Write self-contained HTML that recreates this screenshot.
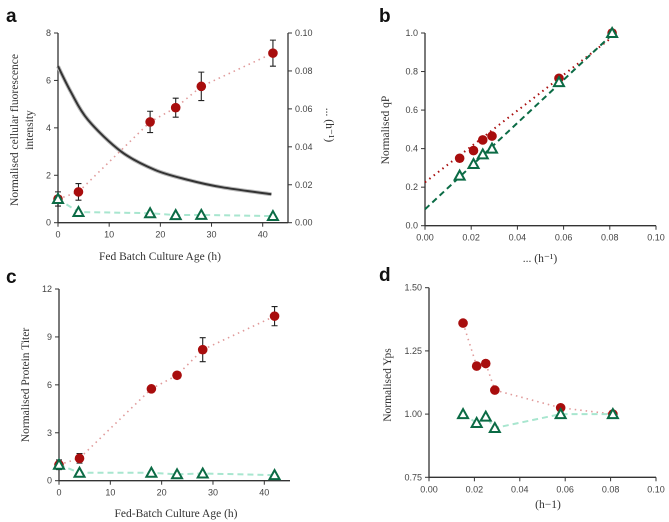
<!DOCTYPE html>
<html><head><meta charset="utf-8"><style>
body{margin:0;background:#fff}
svg{display:block;font-family:"Liberation Sans",sans-serif}
.tk{font-size:9px;fill:#444}
.lab{font-family:"Liberation Serif",serif;font-size:11.5px;fill:#333}
.pl{font-size:19px;font-weight:bold;fill:#111}
</style></head><body>
<svg id="s" width="669" height="522" xmlns="http://www.w3.org/2000/svg">
<text class="pl" x="6" y="22">a</text>
<text class="pl" x="379" y="22">b</text>
<text class="pl" x="6" y="283">c</text>
<text class="pl" x="379" y="281">d</text>
</svg>
<script>
// Panel a
const aTime=[0,4,18,23,28,42];
const aRed=[1,1.3,4.25,4.85,5.75,7.15];
const aRedErr=[0.3,0.35,0.45,0.4,0.6,0.55];
const aGreen=[1,0.45,0.4,0.32,0.33,0.28];
const aCurveT=[0,2.5,5.9,12.4,19,25.5,32,41.7];
const aCurveMu=[0.0825,0.069,0.0541,0.0374,0.0278,0.0225,0.0187,0.015];
// Panel b
const bMu=[0.015,0.021,0.025,0.029,0.058,0.081];
const bRed=[0.35,0.39,0.445,0.465,0.765,1.0];
const bGreen=[0.26,0.32,0.37,0.40,0.745,1.0];
const bRedFit=[0.225,9.3]; // intercept, slope
const bGreenFit=[0.085,11.2];
// Panel c
const cTime=[0,4,18,23,28,42];
const cRed=[1,1.4,5.75,6.6,8.2,10.3];
const cRedErr=[0.3,0.3,0,0,0.75,0.6];
const cGreen=[1,0.5,0.5,0.4,0.45,0.35];
// Panel d
const dMu=[0.015,0.021,0.025,0.029,0.058,0.081];
const dRed=[1.36,1.19,1.2,1.095,1.025,1.0];
const dGreen=[1.0,0.965,0.99,0.945,1.0,1.0];

const S=document.getElementById('s');
const NS='http://www.w3.org/2000/svg';
function el(t,a,txt){const e=document.createElementNS(NS,t);for(const k in a)e.setAttribute(k,a[k]);if(txt!==undefined)e.textContent=txt;S.appendChild(e);return e;}
function lin(d0,d1,r0,r1){return v=>r0+(v-d0)/(d1-d0)*(r1-r0);}
const RED='#a80d0d',GRN='#0b6b45';
function axes(x,y,xt,yt,x0,x1,y0,y1,fmtx,fmty,name){
  let l=el('line',{x1:x0,y1:y0,x2:x1,y2:y0,stroke:'#333','stroke-width':1.3});
  
  l=el('line',{x1:x0,y1:y0,x2:x0,y2:y1,stroke:'#333','stroke-width':1.3});
  
  xt.forEach(v=>{el('line',{x1:x(v),y1:y0,x2:x(v),y2:y0+4,stroke:'#333'});
    const t=el('text',{x:x(v),y:y0+15,class:'tk','text-anchor':'middle'},fmtx(v));
    });
  yt.forEach(v=>{el('line',{x1:x0-4,y1:y(v),x2:x0,y2:y(v),stroke:'#333'});
    const t=el('text',{x:x0-7,y:y(v)+3,class:'tk','text-anchor':'end'},fmty(v));
    });
}
function path(xs,ys,x,y,attrs,name){const d=xs.map((v,i)=>(i?'L':'M')+x(v).toFixed(1)+','+y(ys[i]).toFixed(1)).join('');
  const p=el('path',Object.assign({d:d,fill:'none'},attrs));return p;}
function smooth(xs,ys,x,y,attrs,name){
  const P=xs.map((v,i)=>[x(v),y(ys[i])]);let d='M'+P[0][0]+','+P[0][1];
  for(let i=0;i<P.length-1;i++){const p0=P[Math.max(0,i-1)],p1=P[i],p2=P[i+1],p3=P[Math.min(P.length-1,i+2)];
    const c1=[p1[0]+(p2[0]-p0[0])/6,p1[1]+(p2[1]-p0[1])/6],c2=[p2[0]-(p3[0]-p1[0])/6,p2[1]-(p3[1]-p1[1])/6];
    d+=`C${c1[0].toFixed(1)},${c1[1].toFixed(1)} ${c2[0].toFixed(1)},${c2[1].toFixed(1)} ${p2[0].toFixed(1)},${p2[1].toFixed(1)}`;}
  const p=el('path',Object.assign({d:d,fill:'none'},attrs));return p;}
function dots(xs,ys,x,y,name,err){xs.forEach((v,i)=>{
  if(err&&err[i]>0){const ex=x(v);el('path',{d:`M${ex},${y(ys[i]-err[i])}V${y(ys[i]+err[i])}M${ex-3},${y(ys[i]-err[i])}h6M${ex-3},${y(ys[i]+err[i])}h6`,stroke:'#222','stroke-width':1.1,fill:'none'});}
  const c=el('circle',{cx:x(v),cy:y(ys[i]),r:4.8,fill:RED});
  });}
function tris(xs,ys,x,y,name){xs.forEach((v,i)=>{const cx=x(v),cy=y(ys[i]);
  const p=el('path',{d:`M${cx},${cy-5}L${cx+5},${cy+4}L${cx-5},${cy+4}Z`,fill:'#fff',stroke:GRN,'stroke-width':2});
  });}
function label(x,y,txt,rot,name){const t=el('text',{x:x,y:y,class:'lab','text-anchor':'middle',transform:rot?`rotate(${rot} ${x} ${y})`:''},txt);
  return t;}

// ---- A
{const x=lin(0,40,58,262.7),y=lin(0,8,222.7,33),y2=lin(0,0.1,222.7,33);
 axes(x,y,[0,10,20,30,40],[0,2,4,6,8],58,288,222.7,33,v=>v,v=>v,'panel-a');
 el('line',{x1:288,y1:222.7,x2:288,y2:33,stroke:'#333','stroke-width':1.3});
 [0,0.02,0.04,0.06,0.08,0.1].forEach(v=>{el('line',{x1:288,y1:y2(v),x2:292,y2:y2(v),stroke:'#333'});
   const t=el('text',{x:295,y:y2(v)+3,class:'tk'},v.toFixed(2));});
 smooth(aCurveT,aCurveMu,x,y2,{stroke:'#bbb','stroke-width':4},'growth-rate-band');
 smooth(aCurveT,aCurveMu,x,y2,{stroke:'#333','stroke-width':2},'growth-rate-curve');
 path(aTime,aRed,x,y,{stroke:'#e09a9a','stroke-width':1.6,'stroke-dasharray':'1.5 4'},'panel-a-red-line');
 path(aTime,aGreen,x,y,{stroke:'#a8e6cf','stroke-width':2,'stroke-dasharray':'6 4'},'panel-a-green-line');
 dots(aTime,aRed,x,y,'panel-a-red-point',aRedErr);
 tris(aTime,aGreen,x,y,'panel-a-green-point');
 label(160,260,'Fed Batch Culture Age (h)',0,'panel-a-x-title');
 label(18,130,'Normalised cellular fluorescence',-90,'panel-a-y-title');
 label(33,130,'intensity',-90,'panel-a-y-title-2');
 label(326,125,'... (h⁻¹)',90,'panel-a-y2-title');}
// ---- B
{const x=lin(0,0.1,425,656),y=lin(0,1,225.7,33);
 axes(x,y,[0,0.02,0.04,0.06,0.08,0.1],[0,0.2,0.4,0.6,0.8,1.0],425,656,225.7,33,v=>v.toFixed(2),v=>v.toFixed(1),'panel-b');
 path([0,0.081],[bRedFit[0],bRedFit[0]+bRedFit[1]*0.081],x,y,{stroke:RED,'stroke-width':2,'stroke-dasharray':'1.5 4'},'panel-b-red-fit');
 path([0,0.081],[bGreenFit[0],bGreenFit[0]+bGreenFit[1]*0.081],x,y,{stroke:GRN,'stroke-width':2,'stroke-dasharray':'6 4'},'panel-b-green-fit');
 dots(bMu,bRed,x,y,'panel-b-red-point');
 tris(bMu,bGreen,x,y,'panel-b-green-point');
 label(540,262,'... (h⁻¹)',0,'panel-b-x-title');
 label(389,130,'Normalised qP',-90,'panel-b-y-title');}
// ---- C
{const x=lin(0,40,59,264.3),y=lin(0,12,480.7,289);
 axes(x,y,[0,10,20,30,40],[0,3,6,9,12],59,290,480.7,289,v=>v,v=>v,'panel-c');
 path(cTime,cRed,x,y,{stroke:'#e09a9a','stroke-width':1.6,'stroke-dasharray':'1.5 4'},'panel-c-red-line');
 path(cTime,cGreen,x,y,{stroke:'#a8e6cf','stroke-width':2,'stroke-dasharray':'6 4'},'panel-c-green-line');
 dots(cTime,cRed,x,y,'panel-c-red-point',cRedErr);
 tris(cTime,cGreen,x,y,'panel-c-green-point');
 label(176,517,'Fed-Batch Culture Age (h)',0,'panel-c-x-title');
 label(29,385,'Normalised Protein Titer',-90,'panel-c-y-title');}
// ---- D
{const x=lin(0,0.1,429,656),y=lin(0.75,1.5,477.3,287.7);
 axes(x,y,[0,0.02,0.04,0.06,0.08,0.1],[0.75,1.0,1.25,1.5],429,656,477.3,287.7,v=>v.toFixed(2),v=>v.toFixed(2),'panel-d');
 path(dMu,dRed,x,y,{stroke:'#e09a9a','stroke-width':1.6,'stroke-dasharray':'1.5 4'},'panel-d-red-line');
 path(dMu,dGreen,x,y,{stroke:'#a8e6cf','stroke-width':2,'stroke-dasharray':'6 4'},'panel-d-green-line');
 dots(dMu,dRed,x,y,'panel-d-red-point');
 tris(dMu,dGreen,x,y,'panel-d-green-point');
 label(548,508,'(h−1)',0,'panel-d-x-title');
 label(391,385,'Normalised Yps',-90,'panel-d-y-title');}
</script>
</body></html>
